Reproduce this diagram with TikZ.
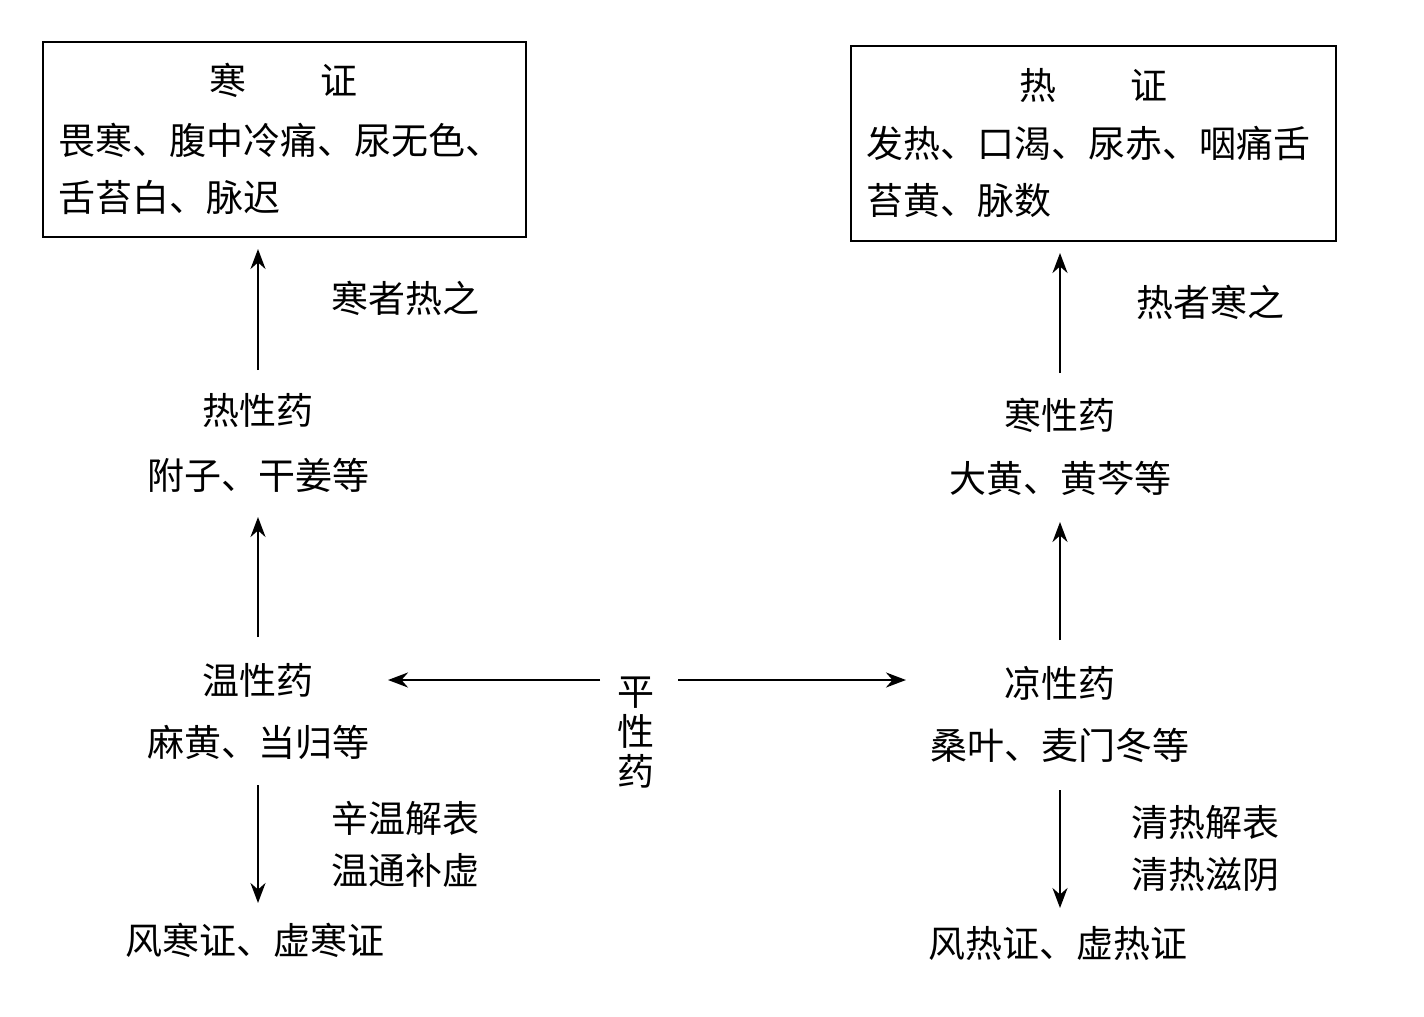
\documentclass[tikz,border=0pt]{standalone}
\usepackage{fontspec}
\setmainfont{Noto Sans CJK SC}
\usetikzlibrary{arrows.meta}
\begin{document}
\begin{tikzpicture}[x=1pt,y=-1pt,
  t/.style={inner sep=0pt,font=\fontsize{37}{44}\selectfont},
  arr/.style={-{Stealth[length=20pt,width=15pt]},line width=2.5pt},
  box/.style={draw,line width=2.5pt}]
\useasboundingbox[fill=white] (0,0) rectangle (1424,1017);
% boxes
\draw[box] (43,42) rectangle (526,237);
\draw[box] (851,46) rectangle (1336,241);
\node[t] (lt) at (283,80) {寒\hspace{2em}证};
\node[t,anchor=west] (l2) at (58,140) {畏寒、腹中冷痛、尿无色、};
\node[t,anchor=west] (l3) at (58,197) {舌苔白、脉迟};
\node[t] (rt) at (1093,85) {热\hspace{2em}证};
\node[t,anchor=west] (r2) at (866,143) {发热、口渴、尿赤、咽痛舌};
\node[t,anchor=west] (r3) at (866,200) {苔黄、脉数};
% left column
\node[t] (hx) at (258,410) {热性药};
\node[t] (hy) at (258,475) {附子、干姜等};
\node[t] (wx) at (258,680) {温性药};
\node[t] (wy) at (258,742) {麻黄、当归等};
\node[t] (fs) at (255,940) {风寒证、虚寒证};
\node[t] (l1) at (405,298) {寒者热之};
\node[t] (l4) at (405,818) {辛温解表};
\node[t] (l5) at (405,870) {温通补虚};
% right column
\node[t] (cx) at (1060,415) {寒性药};
\node[t] (cy) at (1060,478) {大黄、黄芩等};
\node[t] (lx) at (1060,683) {凉性药};
\node[t] (ly) at (1060,745) {桑叶、麦门冬等};
\node[t] (rs) at (1058,943) {风热证、虚热证};
\node[t] (r1) at (1210,302) {热者寒之};
\node[t] (r4) at (1205,822) {清热解表};
\node[t] (r5) at (1205,875) {清热滋阴};
% center
\node[t,align=center] (p) at (636,733) {平\\[-4pt]性\\[-4pt]药};
% arrow endpoints
\coordinate (a1s) at (258,370); \coordinate (a1e) at (258,249);
\coordinate (a2s) at (258,637); \coordinate (a2e) at (258,517);
\coordinate (a3s) at (258,785); \coordinate (a3e) at (258,903);
\coordinate (b1s) at (1060,373); \coordinate (b1e) at (1060,253);
\coordinate (b2s) at (1060,640); \coordinate (b2e) at (1060,522);
\coordinate (b3s) at (1060,790); \coordinate (b3e) at (1060,908);
\coordinate (pl) at (600,680); \coordinate (wl) at (388,680);
\coordinate (pr) at (678,680); \coordinate (cr) at (906,680);
\draw[arr] (a1s) -- (a1e);
\draw[arr] (a2s) -- (a2e);
\draw[arr] (a3s) -- (a3e);
\draw[arr] (b1s) -- (b1e);
\draw[arr] (b2s) -- (b2e);
\draw[arr] (b3s) -- (b3e);
\draw[arr] (pl) -- (wl);
\draw[arr] (pr) -- (cr);
\end{tikzpicture}
\end{document}
